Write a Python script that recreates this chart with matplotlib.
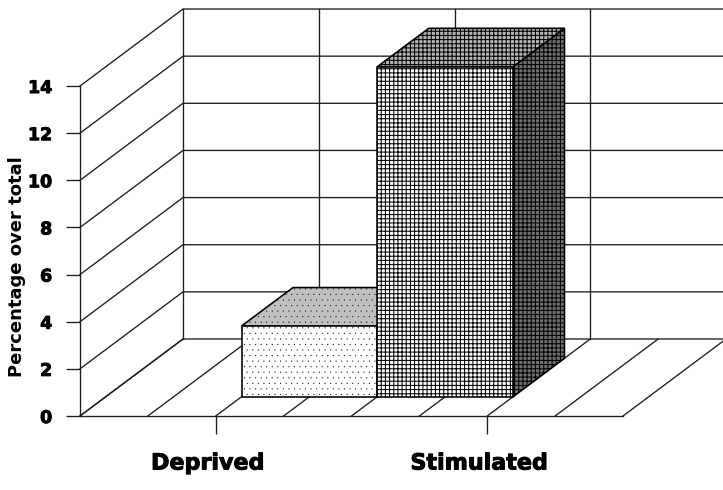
import numpy as np
import matplotlib
matplotlib.use("Agg")
import matplotlib.pyplot as plt
import matplotlib.patheffects as pe
from matplotlib.patches import Polygon
from matplotlib.transforms import ScaledTranslation

categories = ["Deprived", "Stimulated"]
values = [3, 14]
bar_left = [0.5, 1.0]
y_ticks = [0, 2, 4, 6, 8, 10, 12, 14]

# one category is 271.5 px wide, one y unit is 23.57 px
cat_px = 271.5
unit_px = 23.57
depth_x = 103 / cat_px
depth_y = 77 / unit_px
bar_width = 0.5
line_col = "#1c1c1c"
lw = 0.95
heavy = [pe.withStroke(linewidth=0.7, foreground="black")]


def project(x, y, d):
    return (x + d * depth_x, y + d * depth_y)


def face(ax, pts, fc, hatch, hatch_lw):
    p = Polygon(pts, closed=True, facecolor=fc, edgecolor="black",
                hatch=hatch, linewidth=lw + 0.2, zorder=3)
    p.set_hatch_linewidth(hatch_lw)
    ax.add_patch(p)


plt.rcParams["font.family"] = "DejaVu Sans"

fig = plt.figure(figsize=(7.23, 4.9), dpi=100)
ax = fig.add_axes([0, 0, 1, 1])
ax.set_xlim(-80 / cat_px, (723 - 80) / cat_px)
ax.set_ylim((416 - 490) / unit_px, 416 / unit_px)

# side wall and back wall lines
for v in y_ticks:
    p0 = project(0, v, 0)
    p1 = project(0, v, 1)
    p2 = project(2, v, 1)
    ax.plot([p0[0], p1[0], p2[0]], [p0[1], p1[1], p2[1]], color=line_col, lw=lw, zorder=1)

for x in [0, 0.5, 1.0, 1.5, 2.0]:
    a = project(x, 0, 1)
    b = project(x, 14, 1)
    ax.plot([a[0], b[0]], [a[1], b[1]], color=line_col, lw=lw, zorder=1)

# floor lines
for x in np.arange(0, 2.01, 0.25):
    a = project(x, 0, 0)
    b = project(x, 0, 1)
    ax.plot([a[0], b[0]], [a[1], b[1]], color=line_col, lw=lw, zorder=1)

# bars, each one a box standing between depth 0.25 and 0.75
styles = [
    {"front": ("white", "..."), "top": ("#c0c0c0", "..."), "side": ("#808080", "..."), "hlw": 0.05},
    {"front": ("white", "++++"), "top": ("#b4b4b4", "++++"), "side": ("#707070", "++++"), "hlw": 0.75},
]
for i in range(len(values)):
    x0 = bar_left[i]
    x1 = x0 + bar_width
    v = values[i]
    st = styles[i]
    face(ax, [project(x1, 0, 0.25), project(x1, 0, 0.75), project(x1, v, 0.75), project(x1, v, 0.25)],
         st["side"][0], st["side"][1], st["hlw"])
    face(ax, [project(x0, v, 0.25), project(x1, v, 0.25), project(x1, v, 0.75), project(x0, v, 0.75)],
         st["top"][0], st["top"][1], st["hlw"])
    face(ax, [project(x0, 0, 0.25), project(x1, 0, 0.25), project(x1, v, 0.25), project(x0, v, 0.25)],
         st["front"][0], st["front"][1], st["hlw"])

# axes
for s in ["top", "right"]:
    ax.spines[s].set_visible(False)
ax.spines["left"].set_position(("data", 0))
ax.spines["left"].set_bounds(0, 14)
ax.spines["bottom"].set_position(("data", 0))
ax.spines["bottom"].set_bounds(0, 2)
ax.spines["left"].set_color(line_col)
ax.spines["bottom"].set_color(line_col)
ax.spines["left"].set_linewidth(lw)
ax.spines["bottom"].set_linewidth(lw)

ax.set_yticks(y_ticks)
ax.set_yticklabels(y_ticks, fontsize=12.5, fontweight="bold", path_effects=heavy)
ax.tick_params(axis="y", length=10, width=lw, color=line_col, pad=10)
ax.set_xticks([0.5, 1.5])
ax.set_xticklabels(categories, fontsize=16, fontweight="bold", path_effects=heavy)
ax.tick_params(axis="x", length=13, width=lw, color=line_col, pad=14)

# the category names sit a little left of their ticks in the original
shift = ScaledTranslation(-8 / 100, 0, fig.dpi_scale_trans)
for lab in ax.get_xticklabels():
    lab.set_transform(lab.get_transform() + shift)

ax.text(-63 / cat_px, 6.35, "Percentage over total", rotation=90, fontsize=13,
        fontweight="bold", ha="center", va="center")

fig.savefig("out.png", dpi=100)
